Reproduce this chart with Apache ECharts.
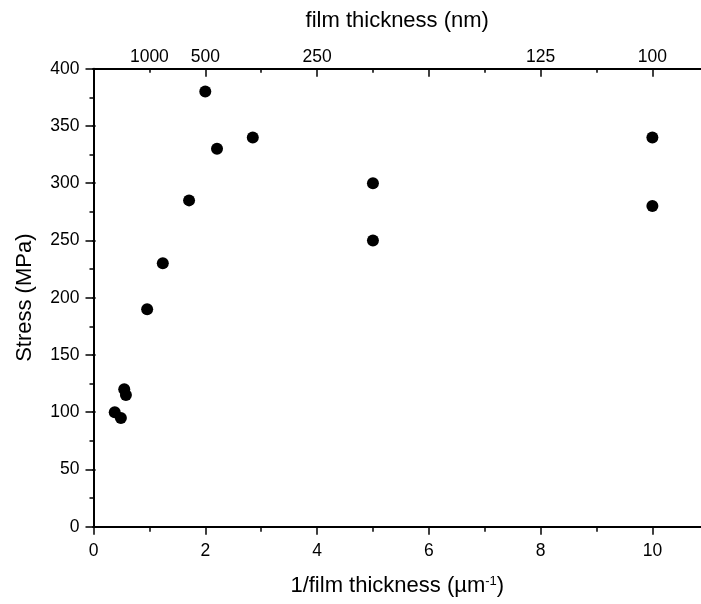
<!DOCTYPE html>
<html>
<head>
<meta charset="utf-8">
<script src="https://cdn.jsdelivr.net/npm/echarts@6/dist/echarts.min.js"></script>
<style>
html, body { margin: 0; padding: 0; background: #fff; }
#chart { width: 701px; height: 604px; }
</style>
</head>
<body>
<div id="chart"></div>
<script>
// Data
const invThickness = [0.38, 0.49, 0.55, 0.58, 0.96, 1.24, 1.71, 2.0, 2.21, 2.85, 5, 5, 10, 10];
const stress = [100, 95, 120, 115, 190, 230, 285, 380, 330, 340, 300, 250, 340, 280];

// Axis ticks / labels
const xMajorTicks = [0, 2, 4, 6, 8, 10];
const xMinorTicks = [1, 3, 5, 7, 9];
const topLabelPositions = [1, 2, 4, 8, 10];
const topLabelTexts = ['1000', '500', '250', '125', '100'];

const FONT = 'Liberation Sans, Arial, Helvetica, sans-serif';
const X_MIN = 0, X_MAX = 10.87;
const Y_MIN = 0, Y_MAX = 400, Y_STEP = 50;

const chart = echarts.init(document.getElementById('chart'), null, { renderer: 'canvas' });

const lineStyleAxis = { color: '#000', width: 2 };
const lineStyleTick = { color: '#000', width: 1.5 };

function xAxisBase(position) {
  return {
    type: 'value', position: position, min: X_MIN, max: X_MAX,
    splitLine: { show: false }, gridIndex: 0
  };
}

const points = invThickness.map(function (x, i) { return [x, stress[i]]; });

const option = {
  backgroundColor: '#fff',
  animation: false,
  grid: { left: 93.5, top: 68.7, right: 0, bottom: 77.3, containLabel: false },
  xAxis: [
    Object.assign(xAxisBase('bottom'), {
      axisLine: { show: true, lineStyle: lineStyleAxis },
      axisTick: { show: true, inside: false, length: 8, customValues: xMajorTicks, lineStyle: lineStyleTick },
      axisLabel: { show: true, customValues: xMajorTicks, fontSize: 17.5, margin: 15, color: '#000', fontFamily: FONT },
      name: '1/film thickness (µm{sup|-1})',
      nameLocation: 'middle', nameGap: 48,
      nameTextStyle: {
        fontSize: 22, color: '#000', fontFamily: FONT,
        rich: { sup: { fontSize: 13, color: '#000', fontFamily: FONT, verticalAlign: 'top', padding: [0, 0, 10, 0] } }
      }
    }),
    Object.assign(xAxisBase('bottom'), {
      axisLine: { show: false },
      axisTick: { show: true, inside: false, length: 5, customValues: xMinorTicks, lineStyle: lineStyleTick },
      axisLabel: { show: false }
    }),
    Object.assign(xAxisBase('top'), {
      axisLine: { show: true, lineStyle: lineStyleAxis },
      axisTick: { show: true, inside: true, length: 8, customValues: xMajorTicks, lineStyle: lineStyleTick },
      axisLabel: {
        show: true, customValues: topLabelPositions, fontSize: 17.5, margin: 3, color: '#000', fontFamily: FONT,
        formatter: function (v) {
          for (let i = 0; i < topLabelPositions.length; i++) {
            if (Math.abs(topLabelPositions[i] - v) < 1e-6) return topLabelTexts[i];
          }
          return '';
        }
      },
      name: 'film thickness (nm)',
      nameLocation: 'middle', nameGap: 37,
      nameTextStyle: { fontSize: 22, color: '#000', fontFamily: FONT }
    }),
    Object.assign(xAxisBase('top'), {
      axisLine: { show: false },
      axisTick: { show: true, inside: true, length: 4, customValues: xMinorTicks, lineStyle: lineStyleTick },
      axisLabel: { show: false }
    })
  ],
  yAxis: [
    {
      type: 'value', position: 'left', min: Y_MIN, max: Y_MAX, interval: Y_STEP,
      axisLine: { show: true, lineStyle: lineStyleAxis },
      axisTick: { show: true, inside: false, length: 8, lineStyle: lineStyleTick },
      minorTick: { show: true, splitNumber: 2, length: 4, lineStyle: lineStyleTick },
      axisLabel: { show: true, fontSize: 17.5, margin: 14, color: '#000', fontFamily: FONT },
      splitLine: { show: false },
      name: 'Stress (MPa)', nameLocation: 'middle', nameGap: 58,
      nameTextStyle: { fontSize: 22, color: '#000', fontFamily: FONT }
    },
    {
      type: 'value', position: 'right', offset: -2, min: Y_MIN, max: Y_MAX, interval: Y_STEP,
      axisLine: { show: false },
      axisTick: { show: true, inside: true, length: 3, lineStyle: { color: '#000', width: 2 } },
      axisLabel: { show: false },
      splitLine: { show: false }
    }
  ],
  series: [
    {
      type: 'scatter',
      xAxisIndex: 0, yAxisIndex: 0,
      symbol: 'circle', symbolSize: 12,
      itemStyle: { color: '#000', opacity: 1 },
      clip: false,
      data: points
    }
  ]
};

chart.setOption(option);
</script>
</body>
</html>
